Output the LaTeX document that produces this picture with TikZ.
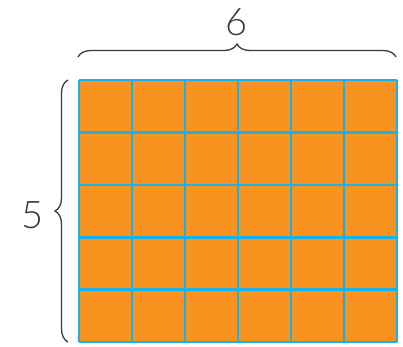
\documentclass[tikz,border=0pt]{standalone}
\usepackage{fontspec}
\setmainfont{Lato}[UprightFont=* Light]
\usepackage{tikz}
\usetikzlibrary{decorations.pathreplacing}
\definecolor{cellorange}{HTML}{F7931E}
\definecolor{gridblue}{HTML}{1CB0E8}
\definecolor{bracegray}{HTML}{3A3A3A}

\begin{document}
\begin{tikzpicture}[x=1pt,y=-1pt,
    bracestyle/.style={decorate,decoration={brace,amplitude=13pt},bracegray,line width=1.3pt},
    dimlabel/.style={font=\fontsize{38}{40}\selectfont,text=bracegray}]
  \useasboundingbox (0,0) rectangle (403,346);
  % squares
  \fill[cellorange] (79,80) rectangle (397,342);
  \foreach \i in {0,...,6}
    \draw[gridblue,line width=2.6pt] ({79+53*\i},80) -- ({79+53*\i},342);
  \foreach \j in {0,...,5}
    \draw[gridblue,line width=2.6pt] (79,{80+52.4*\j}) -- (397,{80+52.4*\j});
  % braces
  \coordinate (topL) at (78,57);
  \coordinate (topR) at (396,57);
  \coordinate (lftB) at (68,342);
  \coordinate (lftT) at (68,80);
  \draw[bracestyle] (topL) -- (topR);
  \draw[bracestyle] (lftB) -- (lftT);
  \node[dimlabel] (cols) at (237,22) {6};
  \node[dimlabel] (rows) at (33,215) {5};
\end{tikzpicture}
\end{document}
